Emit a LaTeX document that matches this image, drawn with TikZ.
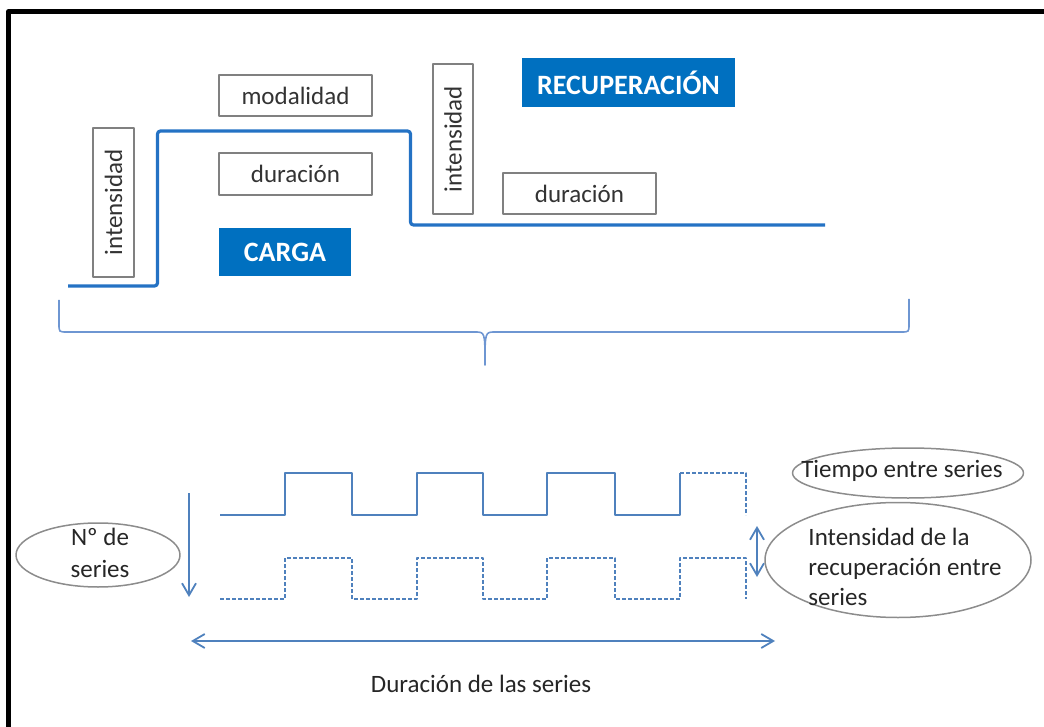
\documentclass[tikz,border=0pt]{standalone}
\usepackage{fontspec}
\setmainfont{Carlito}
\usepackage{tikz}
\usetikzlibrary{arrows.meta,shapes.geometric}
\definecolor{cargablue}{RGB}{0,112,192}
\definecolor{stepblue}{RGB}{36,114,196}
\definecolor{serieblue}{RGB}{79,129,189}
\definecolor{braceblue}{RGB}{110,150,210}
\definecolor{boxgray}{RGB}{128,128,128}
\definecolor{ovalgray}{RGB}{140,140,140}

\begin{document}
\begin{tikzpicture}[x=0.5pt,y=-0.5pt,join=round,
   font=\fontsize{12.5}{15}\selectfont,
   barb/.tip={Straight Barb[length=6pt,width=7pt]},
   infobox/.style={draw=boxgray,line width=0.75pt,fill=white,text=black!80,inner sep=0pt},
   bluebox/.style={fill=cargablue,text=white,inner sep=0pt,font=\fontsize{14}{17}\selectfont\bfseries},
   oval/.style={ellipse,draw=ovalgray,line width=0.75pt,inner sep=0pt},
   stepline/.style={draw=stepblue,line width=1.6pt,rounded corners=1.5pt},
   wave/.style={draw=serieblue,line width=1pt},
   arr/.style={draw=serieblue,line width=0.9pt,-barb},
   dblarr/.style={draw=serieblue,line width=0.9pt,barb-barb}] % Carga y recuperacion
         \useasboundingbox (0,0) rectangle (1044,727);
         \draw[line width=2.25pt] (8.5,727)--(8.5,11.5)--(1044,11.5);
         % perfil de la carga
         \draw[stepline] (68,286)--(157.5,286)--(157.5,131)--(410.5,131)--(410.5,225)--(825,225);
         \node[infobox,rotate=90,minimum width=74.5pt,minimum height=20.5pt] (int1) at (113.5,202.5) {intensidad};
         \node[infobox,minimum width=76.5pt,minimum height=20.5pt] (modal) at (295.5,95.5) {modalidad};
         \node[infobox,minimum width=76.5pt,minimum height=21pt] (dur1) at (295.5,174) {duración};
         \node[bluebox,minimum width=66pt,minimum height=24pt] (carga) at (285,252) {CARGA};
         \node[infobox,rotate=90,minimum width=75pt,minimum height=20pt] (int2) at (453,139) {intensidad};
         \node[bluebox,minimum width=106.5pt,minimum height=24.5pt] (recup) at (628.5,82.5) {RECUPERACIÓN};
         \node[infobox,minimum width=76.5pt,minimum height=20.5pt] (dur2) at (579.5,193.5) {duración};
         % llave
         \draw[braceblue,line width=0.8pt] (59,300)--(59,324) .. controls (59,332) .. (67,332)--(475,332)
                .. controls (485,332) .. (485,365) .. controls (485,332) .. (495,332)--(901,332)
                .. controls (909,332) .. (909,324)--(909,299);
         % series
         \draw[wave] (220,515) -| (285,473) -| (352,515) -| (417,473) -| (483,515) -| (547,473) -| (615,515) -| (680,473);
         \draw[wave,dash pattern=on 2pt off 1pt] (680,473)--(746,473)--(746,515);
         \draw[wave,dash pattern=on 2pt off 1pt] (220,599) -| (285,558) -| (352,599) -| (417,558) -| (483,599) -| (547,558) -| (615,599) -| (680,558) -| (746,599);
         \coordinate (nsTop) at (189,493);
         \coordinate (nsBot) at (189,597);
         \coordinate (durL) at (191,641);
         \coordinate (durR) at (775,641);
         \coordinate (recTop) at (757,526);
         \coordinate (recBot) at (757,577);
         \draw[arr] (nsTop)--(nsBot);
         \draw[dblarr] (durL)--(durR);
         \draw[dblarr] (recTop)--(recBot);
         \node[oval,minimum width=82pt,minimum height=32pt,
                label={[align=center,text=black!85,xshift=1pt,yshift=1pt,font=\fontsize{12.5}{16}\selectfont]center:{Nº de\\series}}] (nser) at (98,555) {};
         \node[oval,minimum width=115.5pt,minimum height=25pt,
                label={[text=black!85,xshift=-3pt,yshift=1pt]center:{Tiempo entre series}}] (tiempo) at (908,473) {};
         \node[oval,minimum width=133pt,minimum height=57.5pt,
                label={[align=left,text=black!85,xshift=3.5pt,yshift=-3.5pt]center:{Intensidad de la\\recuperación entre\\series}}] (intrec) at (898,560) {};
         \node[text=black!85] (durser) at (481,684) {Duración de las series};
      \end{tikzpicture}
\end{document}
